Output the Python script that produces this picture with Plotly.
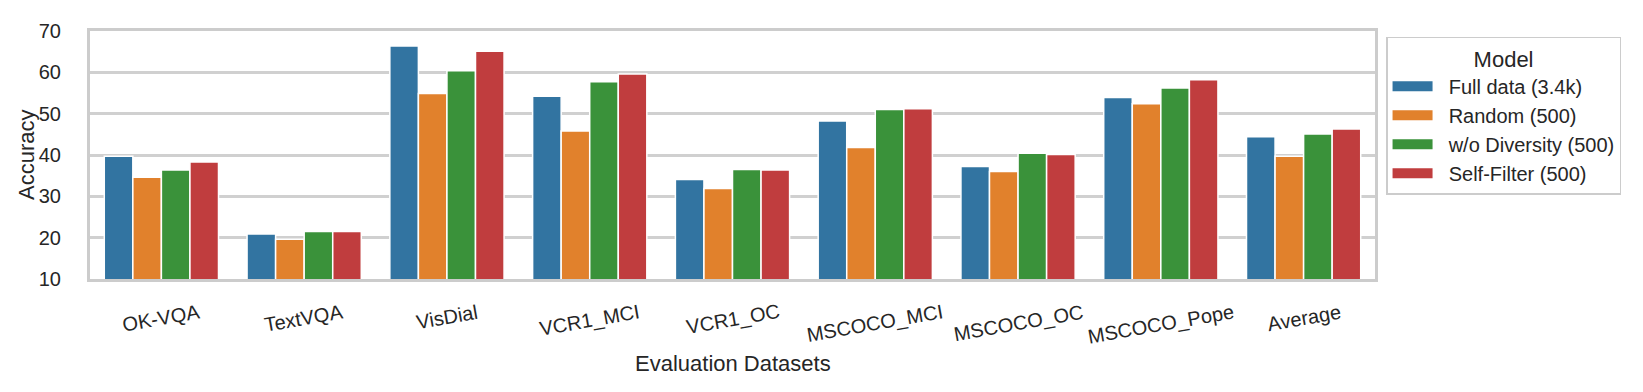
"""
Grouped bar chart: accuracy per evaluation dataset for four data-selection models
"""
import plotly.graph_objects as go

datasets = ['OK-VQA', 'TextVQA', 'VisDial', 'VCR1_MCI', 'VCR1_OC',
            'MSCOCO_MCI', 'MSCOCO_OC', 'MSCOCO_Pope', 'Average']
models = ['Full data (3.4k)', 'Random (500)', 'w/o Diversity (500)', 'Self-Filter (500)']

full_data = [39.7, 20.9, 66.4, 54.2, 34.1, 48.2, 37.2, 53.9, 44.4]
random_500 = [34.6, 19.6, 54.9, 45.8, 31.9, 41.8, 36.0, 52.4, 39.7]
wo_diversity = [36.4, 21.5, 60.4, 57.7, 36.5, 51.0, 40.4, 56.2, 45.1]
self_filter = [38.3, 21.5, 65.1, 59.6, 36.4, 51.2, 40.1, 58.2, 46.3]

y_ticks = [10, 20, 30, 40, 50, 60, 70]

COLORS = ['#3274a1', '#e1812c', '#3a923a', '#c03d3e']
FONT = 'Liberation Sans, Arial, sans-serif'
TEXT = '#262626'

fig = go.Figure()
for name, vals, col in zip(models, [full_data, random_500, wo_diversity, self_filter], COLORS):
    fig.add_trace(go.Bar(
        x=datasets, y=vals, name=name, showlegend=False, legendgroup=name,
        marker=dict(color=col, line=dict(color='white', width=1.5)),
    ))
    # legend entry drawn as a wide flat swatch
    fig.add_trace(go.Scatter(
        x=[None], y=[None], mode='lines', name='\u00a0\u00a0' + name, legendgroup=name,
        line=dict(color=col, width=10),
    ))

# rotated category labels, centred under each group
for cat in datasets:
    fig.add_annotation(
        x=cat, xref='x', y=0, yref='paper', yshift=-19,
        text=cat, textangle=-10, showarrow=False,
        xanchor='center', yanchor='top',
        font=dict(size=20, color=TEXT, family=FONT),
    )

fig.add_annotation(
    x=0.5, xref='paper', y=0, yref='paper', yshift=-84,
    text='Evaluation Datasets', showarrow=False,
    xanchor='center', yanchor='middle',
    font=dict(size=22, color=TEXT, family=FONT),
)
fig.add_annotation(
    x=0, xref='paper', xshift=-64, y=0.5, yref='paper',
    text='Accuracy', textangle=-90, showarrow=False,
    xanchor='center', yanchor='middle',
    font=dict(size=22, color=TEXT, family=FONT),
)

# page body adds an 8px offset, so the figure is 8px smaller than the window
fig.update_layout(
    width=1635, height=384,
    paper_bgcolor='white', plot_bgcolor='white',
    font=dict(family=FONT, color=TEXT, size=20),
    margin=dict(l=82, r=268, t=15, b=113),
    barmode='group', bargap=0.2, bargroupgap=0,
    legend=dict(
        x=1.0086, xanchor='left', y=0.977, yanchor='top',
        bgcolor='white', bordercolor='#cccccc', borderwidth=1.5,
        tracegroupgap=0, itemwidth=40,
        font=dict(size=20, color=TEXT, family=FONT),
        title=dict(text='Model', side='top center', font=dict(size=22, color=TEXT, family=FONT)),
    ),
)
fig.update_xaxes(
    showticklabels=False, showgrid=False, ticks='',
    showline=True, mirror=True, linecolor='#cccccc', linewidth=3,
    range=[-0.5, len(datasets) - 0.5],
)
fig.update_yaxes(
    range=[10, 70], tickvals=y_ticks, ticks='', ticklabelstandoff=22,
    showgrid=True, gridcolor='#d0d0d0', gridwidth=2.5, zeroline=False,
    showline=True, mirror=True, linecolor='#cccccc', linewidth=3,
    tickfont=dict(size=20, color=TEXT, family=FONT),
)

fig.write_html("out.html")
